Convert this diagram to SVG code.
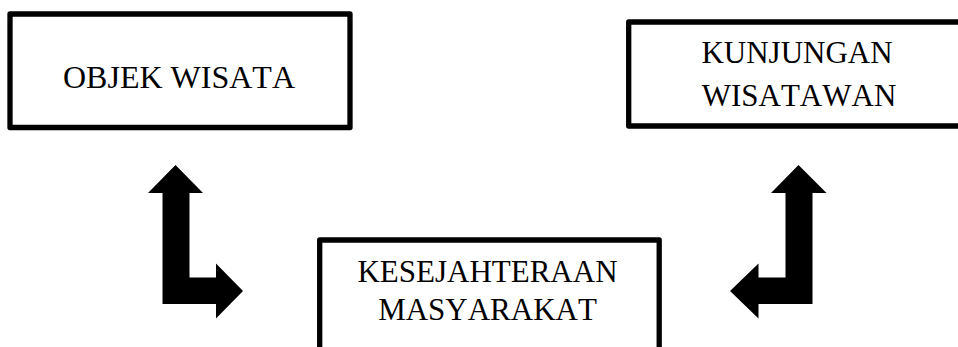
<svg xmlns="http://www.w3.org/2000/svg" width="958" height="347" viewBox="0 0 958 347">
<style>
.box{fill:#fff;stroke:#000;stroke-width:5.3;stroke-linejoin:round}
.t{font-family:"Liberation Serif","Times New Roman",serif;fill:#000;text-anchor:middle;font-kerning:none}
.arrow{fill:#000;stroke:none}
</style>
<rect width="958" height="347" fill="#fff"/>
<g id="objek-wisata">
<rect class="box" x="10" y="14" width="340" height="113.5"/>
<text class="t" x="179" y="88" font-size="32">OBJEK WISATA</text>
</g>
<g id="kunjungan-wisatawan">
<rect class="box" x="628.7" y="22" width="340" height="104"/>
<text class="t" x="797" y="63.3" font-size="31">KUNJUNGAN</text>
<text class="t" x="799" y="106" font-size="31">WISATAWAN</text>
</g>
<g id="kesejahteraan-masyarakat">
<rect class="box" x="319.7" y="240" width="339.5" height="130"/>
<text class="t" x="487.5" y="281.7" font-size="31">KESEJAHTERAAN</text>
<text class="t" x="487.5" y="319.5" font-size="31">MASYARAKAT</text>
</g>
<g id="connectors">
<polygon class="arrow" points="175.5,165 203,193 189.5,193 189.5,277.5 216,277.5 216,263.5 243,291 216,318.5 216,304 162.5,304 162.5,193 148,193"/>
<polygon class="arrow" points="798.5,165 826.5,193 812.5,193 812.5,304 758.5,304 758.5,318.5 730,291 758.5,263.5 758.5,277.5 785.5,277.5 785.5,193 771,193"/>
</g>
</svg>
